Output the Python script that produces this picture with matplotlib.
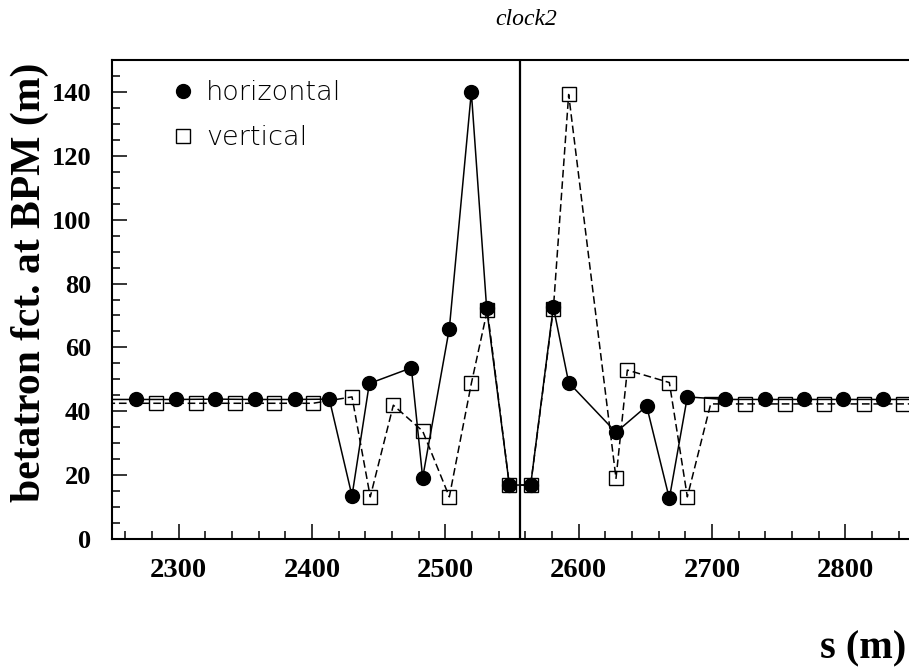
import matplotlib
matplotlib.use('Agg')
import matplotlib.pyplot as plt
from matplotlib.ticker import MultipleLocator

# beta at each BPM
h_s = [2239, 2268, 2298, 2327.5, 2357, 2387, 2413,
       2430, 2443, 2474.5, 2483, 2503, 2519.5, 2531, 2548,
       2564, 2581, 2592.5, 2628, 2651, 2668, 2681.5,
       2710, 2739.5, 2769, 2798.5, 2828, 2857]
h_beta = [43.7, 43.7, 43.7, 43.8, 43.7, 43.7, 43.8,
          13.5, 48.7, 53.6, 19.2, 65.9, 140.0, 72.2, 16.9,
          16.9, 72.7, 49.0, 33.4, 41.6, 12.7, 44.5,
          43.7, 43.7, 43.7, 43.7, 43.7, 43.7]

v_s = [2238, 2283, 2313, 2342, 2371.5, 2400.7,
       2430, 2443.7, 2461, 2483, 2503, 2519.5, 2531.5, 2548,
       2564, 2581, 2592.5, 2628, 2636.5, 2668, 2681.5,
       2699, 2725, 2754.5, 2784, 2814, 2843, 2872]
v_beta = [42.5, 42.5, 42.5, 42.5, 42.5, 42.5,
          44.5, 13.2, 41.9, 33.8, 13.2, 48.7, 71.7, 16.9,
          16.9, 72.0, 139.2, 19.0, 52.9, 49.0, 13.2,
          42.3, 42.3, 42.3, 42.3, 42.3, 42.3, 42.3]

sep_s = 2556  # interaction point marker
labels = ['horizontal', 'vertical']

serif = 'Liberation Serif'

fig = plt.figure(figsize=(9.09, 6.69), dpi=100)
ax = fig.add_axes([112 / 909, 130 / 669, 800 / 909, 479 / 669])

lh, = ax.plot(h_s, h_beta, '-', color='black', lw=1.1,
              marker='o', ms=10, mfc='black', mec='black')
lv, = ax.plot(v_s, v_beta, '--', color='black', lw=1.1, dashes=(5, 2.5),
              marker='s', ms=10.5, mfc='none', mec='black', mew=1.0)
ax.axvline(sep_s, color='black', lw=1.6)

ax.set_xlim(2250, 2850)
ax.set_ylim(0, 150)
ax.xaxis.set_major_locator(MultipleLocator(100))
ax.xaxis.set_minor_locator(MultipleLocator(20))
ax.yaxis.set_major_locator(MultipleLocator(20))
ax.yaxis.set_minor_locator(MultipleLocator(5))
ax.tick_params(which='both', direction='in', top=False, right=False, width=1.1)
ax.tick_params(which='major', length=11)
ax.tick_params(which='minor', length=5.5)
ax.tick_params(axis='x', which='major', pad=14)
ax.tick_params(axis='y', which='major', pad=15)
for sp in ['left', 'bottom', 'top']:
    ax.spines[sp].set_linewidth(1.5)
ax.spines['right'].set_visible(False)

for t in ax.get_xticklabels():
    t.set_fontfamily(serif)
    t.set_fontweight('bold')
    t.set_fontsize(20.5)
for t in ax.get_yticklabels():
    t.set_fontfamily(serif)
    t.set_fontweight('bold')
    t.set_fontsize(19)

leg = ax.legend([lh, lv], labels, loc='upper left',
                bbox_to_anchor=(183 / 909, 1 - 80 / 669),
                bbox_transform=fig.transFigure, frameon=False,
                handlelength=0, handletextpad=0.85, labelspacing=0.75,
                borderpad=0, borderaxespad=0, numpoints=1,
                prop={'family': 'DejaVu Sans', 'weight': 'light', 'size': 19.5})

fig.text(30 / 909, 1 - 282 / 669, 'betatron fct. at BPM (m)', rotation=90,
         ha='center', va='center', family=serif, weight='bold', fontsize=30)
fig.text(906 / 909, 11 / 669, 's (m)', ha='right', va='baseline',
         family=serif, weight='bold', fontsize=29)
fig.text(526 / 909, 1 - 25 / 669, 'clock2', ha='center', va='baseline',
         family=serif, style='italic', fontsize=17)

fig.savefig('out.png', dpi=100)
